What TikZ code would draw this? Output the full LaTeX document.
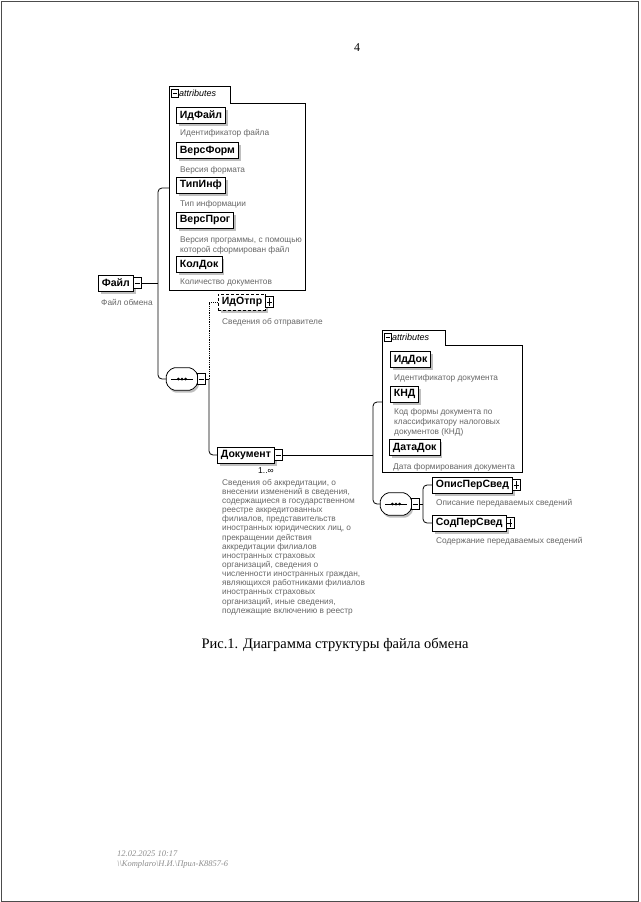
\documentclass[tikz,border=0pt]{standalone}
\usepackage{fontspec}
\setmainfont{Liberation Serif}
\setsansfont{Liberation Sans}
\usetikzlibrary{positioning,shadows}

\tikzset{
	conn/.style={line width=0.8pt},
	elem/.style={draw, fill=white, anchor=west, line width=0.8pt,
		font=\sffamily\bfseries\fontsize{10.5}{11}\selectfont,
		minimum height=16pt, inner xsep=3.5pt, inner ysep=0pt,
		drop shadow={shadow xshift=2.5pt, shadow yshift=-2.5pt, fill=gray!50, opacity=1}},
	optelem/.style={elem, densely dashed},
	desc/.style={anchor=west, inner sep=0pt, align=left, text=black!60,
		font=\sffamily\fontsize{8.3}{10}\selectfont},
	minusbox/.style={draw, fill=white, line width=0.7pt, inner sep=0pt,
		minimum width=8pt, minimum height=11pt,
		path picture={\draw[line width=0.7pt] ([xshift=1.5pt]path picture bounding box.west) -- ([xshift=-1.5pt]path picture bounding box.east);}},
	plusbox/.style={minusbox,
		path picture={\draw[line width=0.7pt] ([xshift=1.5pt]path picture bounding box.west) -- ([xshift=-1.5pt]path picture bounding box.east);
			\draw[line width=0.7pt] ([yshift=1.5pt]path picture bounding box.south) -- ([yshift=-1.5pt]path picture bounding box.north);}},
	tabtext/.style={anchor=west, inner sep=0pt, font=\sffamily\itshape\fontsize{9}{10}\selectfont},
	seqpath/.style={insert path={([xshift=6pt]\seqnode.north west) -- ([xshift=-6pt]\seqnode.north east)
		-- ([yshift=-6pt]\seqnode.north east) -- ([yshift=6pt]\seqnode.south east)
		-- ([xshift=-6pt]\seqnode.south east) -- ([xshift=6pt]\seqnode.south west)
		-- ([yshift=6pt]\seqnode.south west) -- ([yshift=-6pt]\seqnode.north west) -- cycle}},
	seq/.style={minimum width=31pt, minimum height=22pt, inner sep=0pt,
		append after command={\pgfextra{\let\seqnode\tikzlastnode
			\fill[gray!50, rounded corners=2pt, transform canvas={shift={(1.5pt,-2.5pt)}}] [seqpath];
			\draw[line width=0.8pt, fill=white, rounded corners=2pt] [seqpath];
			\draw[line width=0.8pt] ([xshift=5pt]\seqnode.west) -- ([xshift=-5pt]\seqnode.east);
			\foreach \d in {-3.6,0,3.6} \fill ([xshift=\d pt]\seqnode.center) circle (1.5pt);}}},
}

\begin{document}
\begin{tikzpicture}[x=1pt,y=-1pt]
	\useasboundingbox (0,0) rectangle (640,902);
	\draw[black!70, line width=0.8pt] (1,1) rectangle (638.5,901);
	\node (pagenum) at (357,48) {\fontsize{12}{14}\selectfont 4};
	
	% attributes of Файл
	\draw[conn] (169,86) -- (230,86) -- (230,103) -- (305,103) -- (305,290) -- (169,290) -- cycle;
	\node[minusbox, minimum width=7pt, minimum height=8pt] (attr1m) at (174.5,93) {};
	\node[tabtext] (attr1t) at (179,93) {attributes};
	\coordinate (attr1) at (169,188);
	
	\node[elem] (idfajl) at (176,115.5) {ИдФайл};
	\node[desc] (idfajld) at (180,133) {Идентификатор файла};
	\node[elem] (versform) at (176,150.5) {ВерсФорм};
	\node[desc] (versformd) at (180,170) {Версия формата};
	\node[elem] (tipinf) at (176,185) {ТипИнф};
	\node[desc] (tipinfd) at (180,204) {Тип информации};
	\node[elem] (versprog) at (176,220) {ВерсПрог};
	\node[desc, font=\sffamily\fontsize{8.3}{10.5}\selectfont] (versprogd) at (180,245.5) {Версия программы, с помощью\\которой сформирован файл};
	\node[elem] (koldok) at (176,264.5) {КолДок};
	\node[desc] (koldokd) at (180,283) {Количество документов};
	
	% root
	\node[elem] (fajl) at (98,283) {Файл};
	\node[minusbox, right=-1pt of fajl] (fajlm) {};
	\node[desc] (fajld) at (101,302) {Файл обмена};
	\coordinate (fork1) at (158,283);
	
	\node[seq] (seq1) at (182,379) {};
	\node[minusbox, right=-1pt of seq1] (seq1m) {};
	\coordinate (fork2) at (209,379);
	
	\draw[conn] (fajlm.east) -- (fork1);
	\draw[conn, rounded corners=4pt] (attr1) -| (fork1) |- (seq1.west);
	
	% sender
	\node[optelem] (idotpr) at (218,302) {ИдОтпр};
	\node[plusbox, right=-1pt of idotpr] (idotprp) {};
	\node[desc] (idotprd) at (222,322) {Сведения об отправителе};
	
	% document
	\node[elem] (dok) at (217,455) {Документ};
	\node[minusbox, right=-1pt of dok] (dokm) {};
	\node[font=\sffamily\fontsize{8.5}{9}\selectfont, inner sep=0pt] (dokcard) at (266,471) {1..∞};
	\node[desc, anchor=north west, font=\sffamily\fontsize{8.3}{9.14}\selectfont] (dokd) at (222,479) {Сведения об аккредитации, о\\внесении изменений в сведения,\\содержащиеся в государственном\\реестре аккредитованных\\филиалов, представительств\\иностранных юридических лиц, о\\прекращении действия\\аккредитации филиалов\\иностранных страховых\\организаций, сведения о\\численности иностранных граждан,\\являющихся работниками филиалов\\иностранных страховых\\организаций, иные сведения,\\подлежащие включению в реестр};
	
	\draw[conn] (seq1m.east) -- (fork2);
	\draw[conn, densely dotted] (fork2) |- (idotpr.west);
	\draw[conn, rounded corners=4pt] (fork2) |- (dok.west);
	
	% attributes of Документ
	\draw[conn] (382,330) -- (445,330) -- (445,345) -- (522,345) -- (522,472) -- (382,472) -- cycle;
	\node[minusbox, minimum width=7pt, minimum height=8pt] (attr2m) at (387.5,337) {};
	\node[tabtext] (attr2t) at (392,337) {attributes};
	\coordinate (attr2) at (382,402);
	
	\node[elem] (iddok) at (390,359.5) {ИдДок};
	\node[desc] (iddokd) at (394,378) {Идентификатор документа};
	\node[elem] (knd) at (390,394) {КНД};
	\node[desc] (kndd) at (394,422) {Код формы документа по\\классификатору налоговых\\документов (КНД)};
	\node[elem] (datadok) at (389,447.5) {ДатаДок};
	\node[desc] (datadokd) at (393,467) {Дата формирования документа};
	
	\coordinate (fork3) at (373,455);
	\node[seq] (seq2) at (396,504) {};
	\node[minusbox, right=-1pt of seq2] (seq2m) {};
	\coordinate (fork4) at (423,504);
	
	\draw[conn] (dokm.east) -- (fork3);
	\draw[conn, rounded corners=4pt] (attr2) -| (fork3) |- (seq2.west);
	
	\node[elem] (opis) at (432,485) {ОписПерСвед};
	\node[plusbox, right=-1pt of opis] (opisp) {};
	\node[desc] (opisd) at (436,503) {Описание передаваемых сведений};
	\node[elem] (sod) at (432,523) {СодПерСвед};
	\node[plusbox, right=-1pt of sod] (sodp) {};
	\node[desc] (sodd) at (436,541) {Содержание передаваемых сведений};
	
	\draw[conn] (seq2m.east) -- (fork4);
	\draw[conn, rounded corners=4pt] (opis.west) -| (fork4) |- (sod.west);
	
	\node (caption) at (335,645) {\fontsize{14.5}{16}\selectfont Рис.1. Диаграмма структуры файла обмена};
	
	\node[anchor=west, inner sep=0pt, align=left, text=black!45, font=\itshape\fontsize{8.5}{9.5}\selectfont] (footer) at (117,859.5) {12.02.2025 10:17\\\textbackslash\textbackslash Komplaro\textbackslash Н.И.\textbackslash Прил-К8857-6};
\end{tikzpicture}
\end{document}
